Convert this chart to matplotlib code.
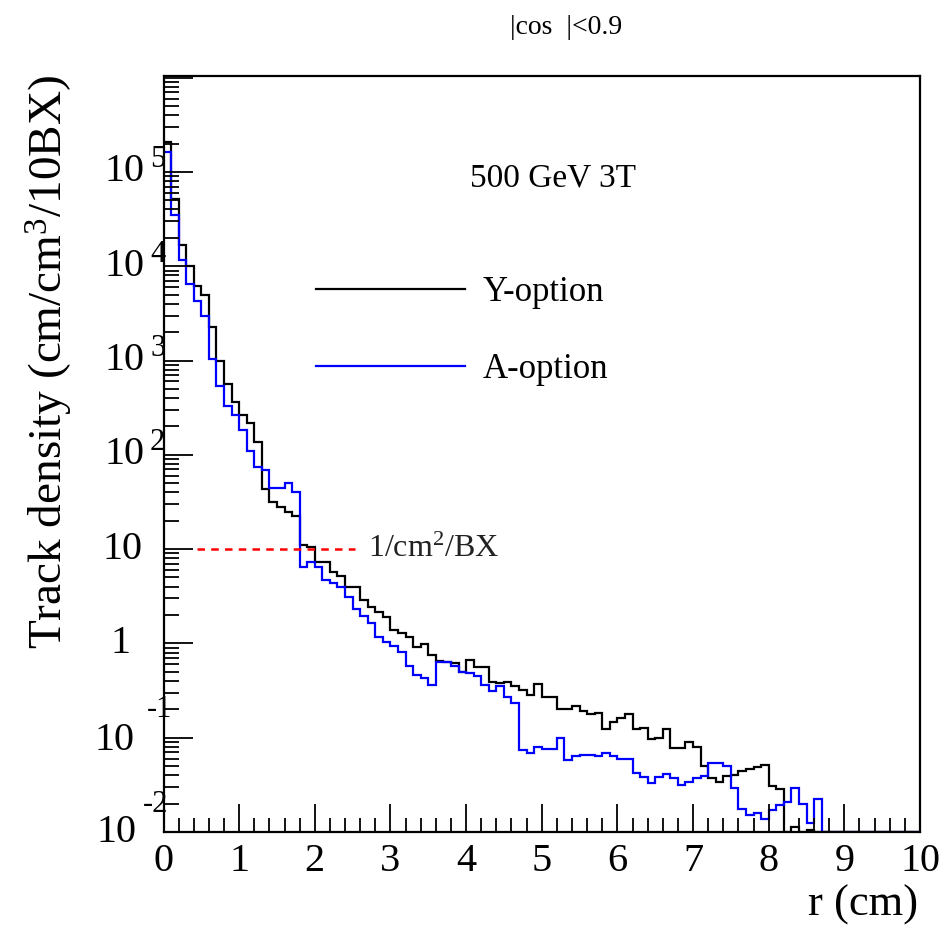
import numpy as np
import matplotlib
matplotlib.use("Agg")
import matplotlib.pyplot as plt
import matplotlib.transforms as mtransforms
from matplotlib.ticker import LogLocator, MultipleLocator, NullFormatter

plt.rcParams['font.family'] = ['Liberation Serif', 'DejaVu Serif']
plt.rcParams['mathtext.fontset'] = 'custom'
plt.rcParams['mathtext.rm'] = 'Liberation Serif'
plt.rcParams['mathtext.it'] = 'Liberation Serif:italic'
plt.rcParams['mathtext.default'] = 'regular'

# Histogram data: 100 bins of 0.1 cm from 0 to 10 cm
r_edges = np.linspace(0, 10, 101)

y_option = [
    2.1e5, 5.2e4, 1.68e4, 1.0e4, 6.2e3, 4.9e3, 2.28e3, 1.0e3, 564, 366,
    264, 216, 136, 43.4, 31.8, 28.2, 24.9, 22.4, 11.0, 10.5,
    7.35, 7.35, 5.75, 5.22, 3.99, 3.99, 2.88, 2.41, 2.17, 1.92,
    1.39, 1.30, 1.18, 0.91, 0.98, 0.75, 0.65, 0.63, 0.615, 0.50,
    0.667, 0.56, 0.56, 0.39, 0.38, 0.39, 0.35, 0.32, 0.284, 0.37,
    0.268, 0.27, 0.20, 0.20, 0.218, 0.192, 0.178, 0.181, 0.124, 0.146,
    0.163, 0.178, 0.124, 0.128, 0.096, 0.0986, 0.124, 0.078, 0.077, 0.091,
    0.080, 0.050, 0.0377, 0.0341, 0.0393, 0.0402, 0.0444, 0.0466, 0.0485, 0.0513,
    0.0308, 0.0286, 0, 0.0114, 0, 0.0105, 0, 0, 0, 0,
    0, 0, 0, 0, 0, 0, 0, 0, 0, 0,
]

a_option = [
    1.64e5, 3.5e4, 1.16e4, 6.5e3, 4.3e3, 3.0e3, 1.03e3, 541, 329, 264,
    183, 110, 73.7, 69, 44.2, 44.2, 49.9, 40, 6.5, 7.35,
    6.4, 4.7, 4.34, 3.99, 3.13, 2.32, 1.95, 1.63, 1.16, 1.03,
    0.94, 0.82, 0.57, 0.46, 0.43, 0.36, 0.64, 0.63, 0.575, 0.494,
    0.48, 0.45, 0.36, 0.31, 0.356, 0.268, 0.232, 0.074, 0.069, 0.079,
    0.075, 0.075, 0.10, 0.058, 0.064, 0.0656, 0.0656, 0.064, 0.069, 0.064,
    0.059, 0.059, 0.0419, 0.038, 0.0334, 0.038, 0.041, 0.037, 0.0315, 0.0336,
    0.037, 0.0393, 0.0543, 0.0543, 0.050, 0.029, 0.0175, 0.0151, 0.0160, 0.01364,
    0.0171, 0.0193, 0.0207, 0.029, 0.0198, 0.01255, 0.0222, 0, 0, 0,
    0, 0, 0, 0, 0, 0, 0, 0, 0, 0,
]

series_labels = ['Y-option', 'A-option']
limit_value = 10.0
limit_range = (0.44, 2.53)

ymin, ymax = 1e-2, 10 ** 6.017

fig = plt.figure(figsize=(9.44, 9.31), dpi=100)
ax = fig.add_axes([163.5 / 944, 1 - 832 / 931, (920 - 163.5) / 944, (832 - 76) / 931])

yv = np.clip(np.array(y_option), ymin, None)
av = np.clip(np.array(a_option), ymin, None)
ax.stairs(yv, r_edges, color='black', linewidth=1.6, baseline=None, label=series_labels[0])
ax.stairs(av, r_edges, color='#0000ff', linewidth=1.6, baseline=None, label=series_labels[1])

ax.plot(limit_range, [limit_value, limit_value], color='red', linestyle=(0, (3, 2.5)), linewidth=1.8)
ax.text(2.7, limit_value, '1/cm$^{2}$/BX', fontsize=23, va='center', ha='left', color='#222222')

ax.set_yscale('log')
ax.set_xlim(0, 10)
ax.set_ylim(ymin, ymax)

for s in ax.spines.values():
    s.set_linewidth(1.6)

ax.xaxis.set_major_locator(MultipleLocator(1))
ax.xaxis.set_minor_locator(MultipleLocator(0.2))
ax.yaxis.set_major_locator(LogLocator(base=10, numticks=20))
ax.yaxis.set_minor_locator(LogLocator(base=10, subs=np.arange(2, 10), numticks=20))
ax.yaxis.set_major_formatter(NullFormatter())
ax.yaxis.set_minor_formatter(NullFormatter())
ax.tick_params(which='both', direction='in', top=False, right=False, width=1.3)
ax.tick_params(which='major', axis='x', length=20, labelsize=29, pad=8)
ax.tick_params(which='minor', axis='x', length=10)
ax.tick_params(which='major', axis='y', length=21)
ax.tick_params(which='minor', axis='y', length=10.5)

# ROOT-style y tick labels
blend = mtransforms.blended_transform_factory(fig.transFigure, ax.transData)
pos_exp = [5, 4, 3, 2]
for k in pos_exp:
    ax.annotate('10', xy=(145 / 944, 10.0 ** k), xycoords=blend, ha='right', va='center', fontsize=29)
    ax.annotate(str(k), xy=(145 / 944, 10.0 ** k), xycoords=blend, xytext=(5, 12),
                textcoords='offset pixels', ha='left', va='center', fontsize=22)
ax.annotate('10', xy=(143 / 944, 10.0), xycoords=blend, ha='right', va='center', fontsize=29)
ax.annotate('1', xy=(131 / 944, 1.0), xycoords=blend, ha='right', va='center', fontsize=29)
ax.annotate('10', xy=(135 / 944, 0.1), xycoords=blend, xytext=(0, -3),
            textcoords='offset pixels', ha='right', va='center', fontsize=29)
ax.annotate('-1', xy=(135 / 944, 0.1), xycoords=blend, xytext=(12, 28),
            textcoords='offset pixels', ha='left', va='center', fontsize=22)
ax.annotate('10', xy=(137 / 944, 0.01), xycoords=blend, ha='right', va='center', fontsize=29)
ax.annotate('-2', xy=(137 / 944, 0.01), xycoords=blend, xytext=(6, 27),
            textcoords='offset pixels', ha='left', va='center', fontsize=22)

fig.text(50 / 944, 1 - 362 / 931, 'Track density (cm/cm$^{3}$/10BX)', rotation=90,
         ha='center', va='center', fontsize=34)
fig.text(918 / 944, 1 - 905 / 931, 'r (cm)', ha='right', va='center', fontsize=32)
fig.text(566 / 944, 1 - 27 / 931, '|cos  |<0.9', ha='center', va='center', fontsize=20)
fig.text(553 / 944, 1 - 178 / 931, '500 GeV 3T', ha='center', va='center', fontsize=24)

leg = ax.legend(loc='upper left', bbox_to_anchor=(316 / 944, 1 - 276 / 931),
                bbox_transform=fig.transFigure, frameon=False, fontsize=25,
                handlelength=4.3, handletextpad=0.5, labelspacing=1.26,
                borderpad=0, borderaxespad=0)

fig.savefig('out.png', dpi=100)
